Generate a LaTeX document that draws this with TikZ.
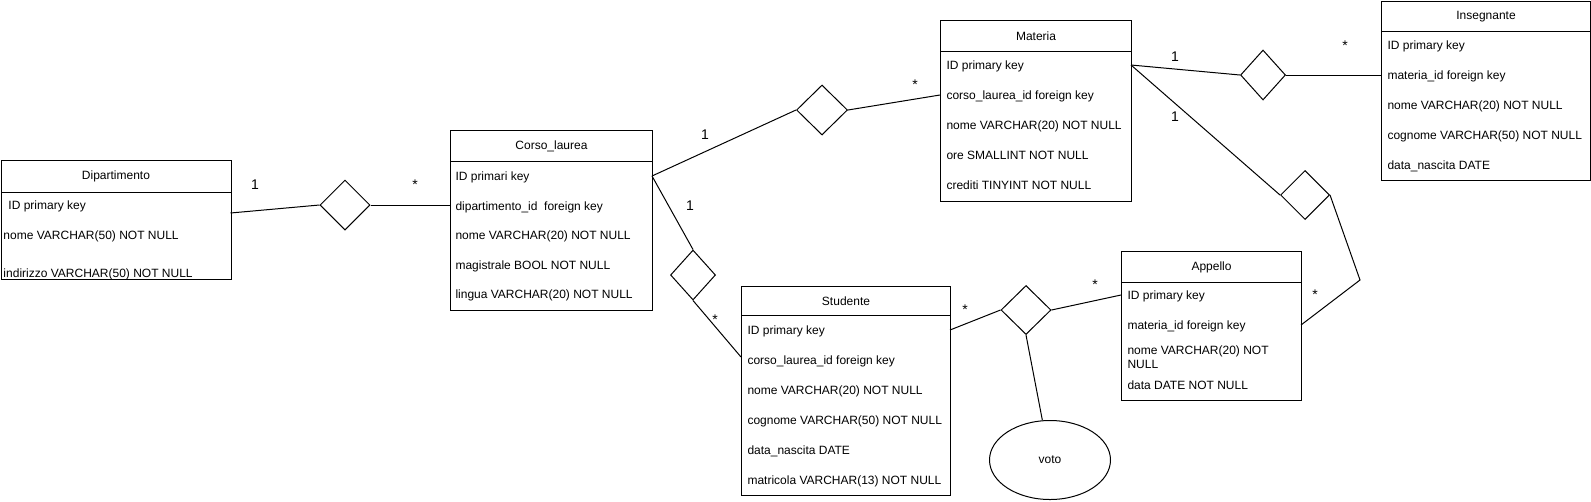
\documentclass[tikz,border=0pt]{standalone}
\usepackage{fontspec}
\setmainfont{Liberation Sans}
\usetikzlibrary{shapes.geometric}
\newcommand{\px}{0.75pt}
\tikzset{
    every node/.style={font=\fontsize{9}{10.5}\selectfont},
    head/.style={draw, rectangle, anchor=north west, inner sep=0pt},
    body/.style={draw, rectangle, anchor=north west, inner sep=0pt},
    row/.style={anchor=base west, inner sep=0pt, yshift=-3.2pt},
    rel/.style={draw, diamond, inner sep=0pt, minimum width=50*\px,
    	minimum height=50*\px},
    card/.style={inner sep=0pt, font=\fontsize{10.5}{12}\selectfont}
}

\begin{document}
\begin{tikzpicture}[x=0.75pt, y=-0.75pt, line width=0.75pt]
	\useasboundingbox (0,0) rectangle (1591,501);

	\node (dip) [head, minimum width=230*\px, minimum height=32*\px] at (0.5,160) {Dipartimento};
	\node (dipbody) [body, minimum width=230*\px, minimum height=87*\px] at (0.5,192) {};
	\node (dip1) [row] at (8,205) {ID primary key};
	\node (dip2) [row] at (3,235) {nome VARCHAR(50) NOT NULL};
	\node (dip3) [row] at (3,273) {indirizzo VARCHAR(50) NOT NULL};

	\node (cor) [head, minimum width=202*\px, minimum height=31*\px] at (450,130) {Corso\_laurea};
	\node (corbody) [body, minimum width=202*\px, minimum height=149*\px] at (450,161) {};
	\node (cor1) [row] at (455,176) {ID primari key};
	\node (cor2) [row] at (455,206) {dipartimento\_id\ \ foreign key};
	\node (cor3) [row] at (455,235) {nome VARCHAR(20) NOT NULL};
	\node (cor4) [row] at (455,265) {magistrale BOOL NOT NULL};
	\node (cor5) [row] at (455,294) {lingua VARCHAR(20) NOT NULL};

	\node (mat) [head, minimum width=191*\px, minimum height=31*\px] at (940,20) {Materia};
	\node (matbody) [body, minimum width=191*\px, minimum height=150*\px] at (940,51) {};
	\node (mat1) [row] at (946,65) {ID primary key};
	\node (mat2) [row] at (946,95) {corso\_laurea\_id foreign key};
	\node (mat3) [row] at (946,125) {nome VARCHAR(20) NOT NULL};
	\node (mat4) [row] at (946,155) {ore SMALLINT NOT NULL};
	\node (mat5) [row] at (946,185) {crediti TINYINT NOT NULL};

	\node (ins) [head, minimum width=209*\px, minimum height=30*\px] at (1381,1) {Insegnante};
	\node (insbody) [body, minimum width=209*\px, minimum height=149*\px] at (1381,31) {};
	\node (ins1) [row] at (1387,45) {ID primary key};
	\node (ins2) [row] at (1387,75) {materia\_id foreign key};
	\node (ins3) [row] at (1387,105) {nome VARCHAR(20) NOT NULL};
	\node (ins4) [row] at (1387,135) {cognome VARCHAR(50) NOT NULL};
	\node (ins5) [row] at (1387,165) {data\_nascita DATE};

	\node (stu) [head, minimum width=209*\px, minimum height=29*\px] at (741,286) {Studente};
	\node (stubody) [body, minimum width=209*\px, minimum height=180*\px] at (741,315) {};
	\node (stu1) [row] at (747,330) {ID primary key};
	\node (stu2) [row] at (747,360) {corso\_laurea\_id foreign key};
	\node (stu3) [row] at (747,390) {nome VARCHAR(20) NOT NULL};
	\node (stu4) [row] at (747,420) {cognome VARCHAR(50) NOT NULL};
	\node (stu5) [row] at (747,450) {data\_nascita DATE};
	\node (stu6) [row] at (747,480) {matricola VARCHAR(13) NOT NULL};

	\node (app) [head, minimum width=180*\px, minimum height=31*\px] at (1121,251) {Appello};
	\node (appbody) [body, minimum width=180*\px, minimum height=118*\px] at (1121,282) {};
	\node (app1) [row] at (1127,295) {ID primary key};
	\node (app2) [row] at (1127,325) {materia\_id foreign key};
	\node (app3) [row] at (1127,350) {nome VARCHAR(20) NOT};
	\node (app3b) [row] at (1127,364) {NULL};
	\node (app4) [row] at (1127,385) {data DATE NOT NULL};

	\node (r1) [rel] at (345,205) {};
	\node (r2) [rel, minimum width=51*\px] at (822,110) {};
	\node (r3) [rel, minimum width=45*\px] at (693,275) {};
	\node (r4) [rel, minimum width=45*\px] at (1263,75) {};
	\node (r5) [rel, minimum width=49*\px, minimum height=49*\px] at (1305,195) {};
	\node (r6) [rel, minimum height=49*\px] at (1026,310) {};
	\node (voto) [draw, ellipse, minimum width=121*\px, minimum height=79*\px] at (1050,460) {voto};

	\coordinate (dipR) at (230.5,213);
	\coordinate (corL) at (450,205);
	\coordinate (corR) at (652,176);
	\coordinate (matL) at (940,95);
	\coordinate (matR) at (1131,65);
	\coordinate (insL) at (1381,75);
	\coordinate (stuL) at (741,357);
	\coordinate (stuR) at (950,330);
	\coordinate (appL) at (1121,295);
	\coordinate (appR) at (1301,325);
	\coordinate (bend) at (1360,280);

	\draw (dipR) edge (r1.west); \draw (r1.east) edge (corL);
	\draw (corR) edge (r2.west); \draw (r2.east) edge (matL);
	\draw (corR) edge (r3.north); \draw (r3.south) edge (stuL);
	\draw (matR) edge (r4.west); \draw (r4.east) edge (insL);
	\draw (matR) edge (r5.west); \draw (r5.east) -- (bend) -- (appR);
	\draw (stuR) edge (r6.west); \draw (r6.east) edge (appL);
	\draw (r6.south) edge (voto);

	\node (c1) [card] at (255,185) {1};
	\node (c2) [card] at (415,185) {*};
	\node (c3) [card] at (705,135) {1};
	\node (c4) [card] at (690,206) {1};
	\node (c5) [card] at (915,85) {*};
	\node (c6) [card] at (1175,57) {1};
	\node (c7) [card] at (1175,117) {1};
	\node (c8) [card] at (1345,46) {*};
	\node (c9) [card] at (1315,295) {*};
	\node (c10) [card] at (965,310) {*};
	\node (c11) [card] at (1095,285) {*};
	\node (c12) [card] at (715,320) {*};
\end{tikzpicture}
\end{document}
